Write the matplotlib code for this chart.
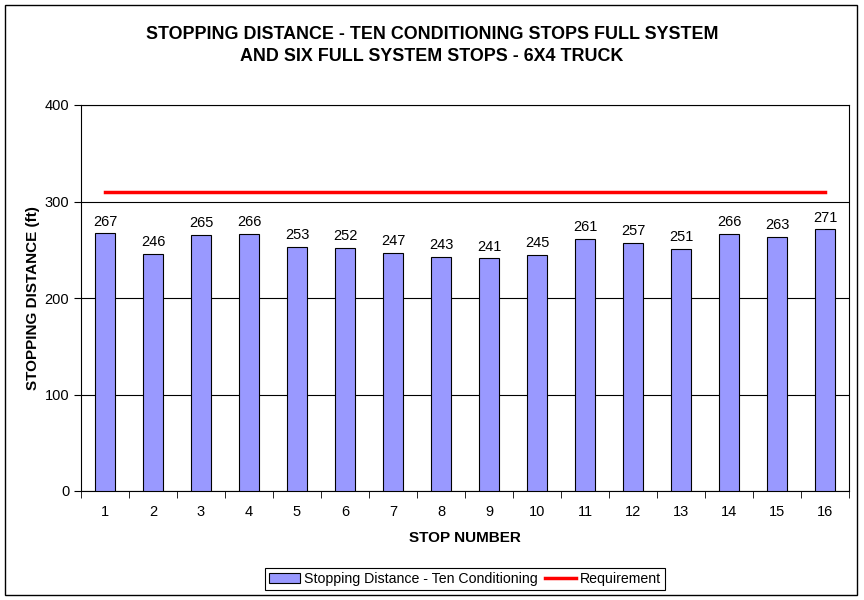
import matplotlib
matplotlib.use("Agg")
import matplotlib.pyplot as plt
from matplotlib.patches import Rectangle
import numpy as np

plt.rcParams['font.family'] = ['Liberation Sans', 'DejaVu Sans']

stops = list(range(1, 17))
distance = [267, 246, 265, 266, 253, 252, 247, 243, 241, 245, 261, 257, 251, 266, 263, 271]
requirement = [310] * 16

fig = plt.figure(figsize=(8.64, 6.0), dpi=100)
ax = fig.add_axes([81/864, 1 - 491/600, (849-81)/864, (491-105)/600])

bars = ax.bar(stops, distance, width=0.41, color='#9999FF', edgecolor='black', linewidth=0.8,
              label='Stopping Distance - Ten Conditioning', zorder=3)
line, = ax.plot(stops, requirement, color='#FF0000', linewidth=2.5, label='Requirement', zorder=4)

for x, v in zip(stops, distance):
    ax.text(x, v + 5, str(v), ha='center', va='bottom', fontsize=10.5, zorder=5)

ax.set_xlim(0.5, 16.5)
ax.set_ylim(0, 400)
ax.set_yticks([0, 100, 200, 300, 400])
ax.yaxis.grid(True, color='black', linewidth=0.8, zorder=0)
ax.set_xticks(stops)
ax.set_xticks(np.arange(0.5, 17, 1), minor=True)
ax.tick_params(axis='x', which='major', length=0, pad=10, labelsize=10.5)
ax.tick_params(axis='x', which='minor', length=5, direction='out')
ax.tick_params(axis='y', length=5, direction='out', labelsize=10.5)
for s in ax.spines.values():
    s.set_linewidth(0.8)

ax.set_xlabel('STOP NUMBER', fontsize=11, fontweight='bold', labelpad=9)
ax.set_ylabel('STOPPING DISTANCE (ft)', fontsize=11, fontweight='bold', labelpad=3)

fig.text(432/864, 1 - 45.5/600, 'STOPPING DISTANCE - TEN CONDITIONING STOPS FULL SYSTEM\nAND SIX FULL SYSTEM STOPS - 6X4 TRUCK',
         ha='center', va='center', fontsize=12.9, fontweight='bold', linespacing=1.45)

leg = fig.legend(handles=[bars, line], loc='center', bbox_to_anchor=(465/864, 1 - 579/600), ncol=2, fontsize=10.2,
                 frameon=True, fancybox=False, edgecolor='black', framealpha=1,
                 handlelength=2.2, handletextpad=0.3, columnspacing=0.5, borderpad=0.25)
leg.get_frame().set_linewidth(0.8)

fig.patches.append(Rectangle((5/864, 5/600), 852/864, 590/600, transform=fig.transFigure,
                             fill=False, edgecolor='black', linewidth=1))

fig.savefig('out.png', dpi=100)
